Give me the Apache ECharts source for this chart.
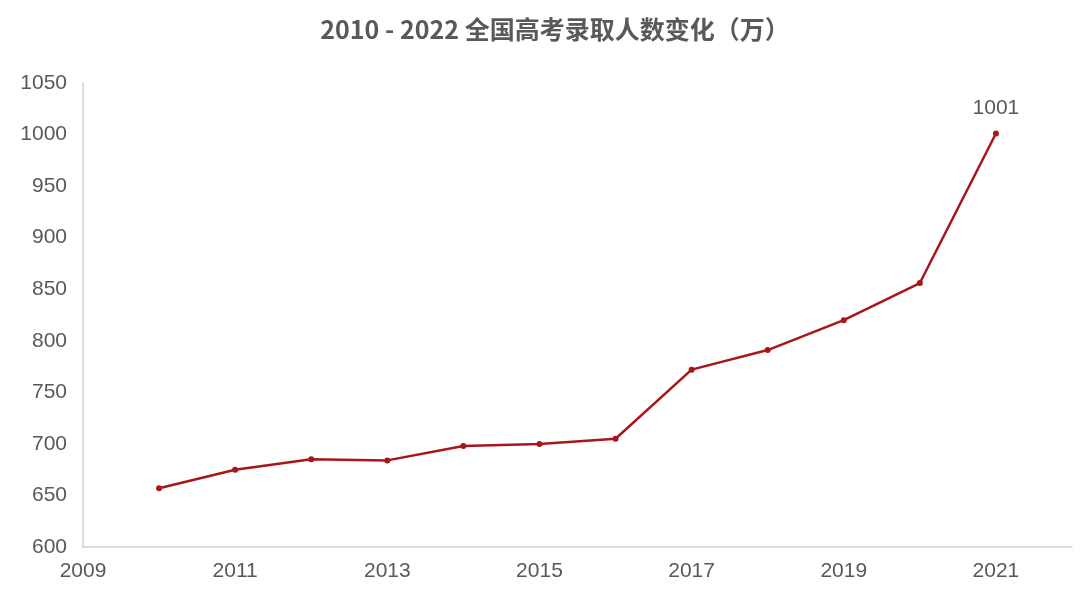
<!DOCTYPE html>
<html>
<head>
<meta charset="utf-8">
<script src="https://cdn.jsdelivr.net/npm/echarts@6/dist/echarts.min.js"></script>
<style>html,body{margin:0;padding:0;background:#fff;}#c{width:1080px;height:596px;}</style>
</head>
<body>
<div id="c"></div>
<script>
var years = [2010, 2011, 2012, 2013, 2014, 2015, 2016, 2017, 2018, 2019, 2020, 2021];
var admitted = [657, 675, 685, 684, 698, 700, 705, 772, 791, 820, 856, 1001];
var titleText = '2010 - 2022 全国高考录取人数变化（万）';

var chart = echarts.init(document.getElementById('c'));
chart.setOption({
  animation: false,
  title: {
    text: titleText,
    left: 550, textAlign: 'center',
    top: 12,
    textStyle: {color: '#595959', fontSize: 25, fontWeight: 'bold', fontFamily: 'Noto Sans CJK SC'}
  },
  grid: {left: 83, right: 8, top: 83, bottom: 49},
  xAxis: {
    type: 'value', min: 2009, max: 2022, interval: 1,
    axisLine: {lineStyle: {color: '#d0d0d0', width: 1.5}},
    axisTick: {show: false},
    splitLine: {show: false},
    axisLabel: {
      color: '#595959', fontSize: 21, fontFamily: 'Liberation Sans', margin: 14,
      formatter: function (v) { return (v % 2 === 1) ? String(v) : ''; }
    }
  },
  yAxis: {
    type: 'value', min: 600, max: 1050, interval: 50,
    axisLine: {show: true, lineStyle: {color: '#d0d0d0', width: 1.5}},
    axisTick: {show: false},
    splitLine: {show: false},
    axisLabel: {color: '#595959', fontSize: 21, fontFamily: 'Liberation Sans', margin: 16,
      formatter: function (v) { return String(v); }}
  },
  series: [{
    type: 'line',
    data: years.map(function (y, i) { return [y, admitted[i]]; }),
    symbol: 'circle', symbolSize: 6,
    lineStyle: {color: '#a8161b', width: 2.5},
    itemStyle: {color: '#a8161b'},
    label: {
      show: true, position: 'top', distance: 12,
      color: '#595959', fontSize: 21, fontFamily: 'Liberation Sans',
      formatter: function (p) { return p.dataIndex === years.length - 1 ? String(p.value[1]) : ''; }
    }
  }]
});
</script>
</body>
</html>
